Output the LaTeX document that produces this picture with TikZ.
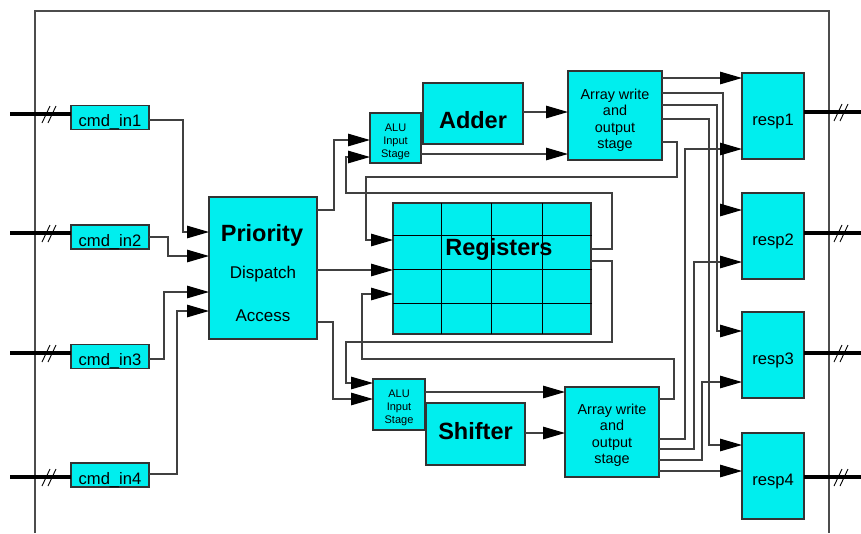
\documentclass[tikz,border=0pt]{standalone}
\usepackage{fontspec}
\setmainfont{Liberation Sans}
\usetikzlibrary{arrows.meta}
\definecolor{unitfill}{RGB}{0,238,238}
\definecolor{wiregray}{RGB}{64,64,64}
\newcommand{\fsize}[2]{\fontsize{#1}{#2}\selectfont}
\newcommand{\stack}[1]{\begin{tabular}[t]{@{}c@{}}#1\end{tabular}}

\begin{document}
\begin{tikzpicture}[x=1pt,y=-1pt,
  unit/.style={draw=black!80, line width=1.2pt, fill=unitfill, inner sep=0pt, outer sep=0pt},
  txtup/.style={text height=#1, text depth=0pt},
  txtdown/.style={text height=0pt, text depth=#1},
  port/.style={font=\fsize{16.6}{19}},
  bigtxt/.style={font=\bfseries\fsize{23.5}{27}},
  midtxt/.style={font=\fsize{17}{20}},
  stagetxt/.style={font=\fsize{14.4}{16.6}},
  alutxt/.style={font=\fsize{11}{13}},
  wire/.style={draw=wiregray, line width=1.2pt},
  feed/.style={wire, -{Triangle[length=22pt,width=12.5pt,color=black]}},
  bus/.style={line width=3.6pt, black},
  slash/.style={line width=0.9pt, black},
  frame/.style={draw=black!70, line width=1.2pt},
  gridl/.style={draw=black, line width=1pt},
]
\useasboundingbox (0,0) rectangle (861,533);

% block boundary
\draw[frame] (35,533) -- (35,11) -- (829,11) -- (829,533);

% command inputs
\node[unit, port, txtup=18pt, minimum width=78, minimum height=24] (cmd1) at (110,117.5) {cmd\_in1};
\node[unit, port, txtup=18pt, minimum width=78, minimum height=24] (cmd2) at (110,237) {cmd\_in2};
\node[unit, port, txtup=18pt, minimum width=78, minimum height=24] (cmd3) at (110,356.5) {cmd\_in3};
\node[unit, port, txtup=18pt, minimum width=78, minimum height=24] (cmd4) at (110,475) {cmd\_in4};

% priority dispatch
\node[unit, minimum width=108, minimum height=142] (prio) at (263,268) {};
\node[bigtxt, anchor=base] (priot) at (262,241) {Priority};
\node[midtxt, anchor=base] (dispt) at (263,278) {Dispatch};
\node[midtxt, anchor=base] (acct) at (263,321) {Access};

% upper datapath
\node[unit, alutxt, txtdown=14pt, minimum width=51, minimum height=50] (alu1) at (395.5,138) {\stack{ALU\\Input\\Stage}};
\node[unit, bigtxt, txtup=29.6pt, minimum width=100, minimum height=61] (adder) at (473,113.5) {Adder};
\node[unit, stagetxt, txtdown=33pt, minimum width=94, minimum height=89] (aw1) at (615,115.5) {\stack{Array write\\and\\output\\stage}};

% register file
\node[unit, minimum width=198, minimum height=131] (regs) at (492,268.5) {};
\foreach \gx in {441,491,542}
  \draw[gridl] (\gx,0 |- regs.north) -- (\gx,0 |- regs.south);
\foreach \gy in {235,269,303}
  \draw[gridl] (regs.west |- 0,\gy) -- ([xshift=1pt]regs.east |- 0,\gy);
\node[bigtxt, anchor=base] (regst) at (499,255) {Registers};

% lower datapath
\node[unit, alutxt, txtdown=15pt, minimum width=52, minimum height=51] (alu2) at (399,404.5) {\stack{ALU\\Input\\Stage}};
\node[unit, bigtxt, txtup=11.6pt, minimum width=99, minimum height=62] (shifter) at (475.5,434) {Shifter};
\node[unit, stagetxt, txtdown=36pt, minimum width=94, minimum height=90] (aw2) at (612,432) {\stack{Array write\\and\\output\\stage}};

% responses
\node[unit, port, txtup=19pt, minimum width=62, minimum height=86] (resp1) at (773,116) {resp1};
\node[unit, port, txtup=19pt, minimum width=62, minimum height=86] (resp2) at (773,236) {resp2};
\node[unit, port, txtup=19pt, minimum width=62, minimum height=86] (resp3) at (773,355) {resp3};
\node[unit, port, txtup=19pt, minimum width=62, minimum height=86] (resp4) at (773,476) {resp4};

% input buses
\coordinate (in1) at (10,114);
\coordinate (in2) at (10,233);
\coordinate (in3) at (10,353);
\coordinate (in4) at (10,477);
\draw[bus] (in1) -- (cmd1.west |- in1);
\draw[bus] (in2) -- (cmd2.west |- in2);
\draw[bus] (in3) -- (cmd3.west |- in3);
\draw[bus] (in4) -- (cmd4.west |- in4);
\foreach \by in {114,233,353,477} {
  \draw[slash] (42,\by+9) -- (50,\by-8);
  \draw[slash] (48,\by+9) -- (56,\by-8);
}

% output buses
\coordinate (out1) at (861,112);
\coordinate (out2) at (861,233);
\coordinate (out3) at (861,353);
\coordinate (out4) at (861,477);
\draw[bus] (resp1.east |- out1) -- (out1);
\draw[bus] (resp2.east |- out2) -- (out2);
\draw[bus] (resp3.east |- out3) -- (out3);
\draw[bus] (resp4.east |- out4) -- (out4);
\foreach \by in {112,233,353,477} {
  \draw[slash] (834,\by+9) -- (842,\by-8);
  \draw[slash] (840,\by+9) -- (848,\by-8);
}

% commands into the dispatcher
\draw[feed] (cmd1.east |- 0,120) -| (183,232) -- (prio.west |- 0,232);
\draw[feed] (cmd2.east |- 0,237) -| (168,256) -- (prio.west |- 0,256);
\draw[feed] (cmd3.east |- 0,359) -| (164,292) -- (prio.west |- 0,292);
\draw[feed] (cmd4.east |- 0,474) -| (177,311) -- (prio.west |- 0,311);

% dispatcher outputs
\draw[feed] (prio.east |- 0,210) -| (334,140) -- (alu1.west |- 0,140);
\draw[feed] (prio.east |- 0,270) -- (regs.west |- 0,270);
\draw[feed] (prio.east |- 0,322) -| (333,399) -- (alu2.west |- 0,399);

% upper datapath
\draw[feed] (alu1.east |- 0,154) -- (aw1.west |- 0,154);
\draw[feed] (adder.east |- 0,112) -- (aw1.west |- 0,112);
\draw[feed] (aw1.east |- 0,78) -- (resp1.west |- 0,78);
\draw[feed] (aw1.east |- 0,93) -| (723,210) -- (resp2.west |- 0,210);
\draw[feed] (aw1.east |- 0,105) -| (717,331) -- (resp3.west |- 0,331);
\draw[feed] (aw1.east |- 0,119) -| (709,445) -- (resp4.west |- 0,445);
\draw[feed] (aw1.east |- 0,142) -| (677,177) -| (366,240) -- (regs.west |- 0,240);

% register read ports
\draw[feed] (regs.east |- 0,249) -| (612,193) -| (346,157) -- (alu1.west |- 0,157);
\draw[feed] (regs.east |- 0,261) -| (612,342) -| (346,383) -- (alu2.west |- 0,383);

% lower datapath
\draw[feed] (aw2.east |- 0,399) -| (674,359) -| (362,294) -- (regs.west |- 0,294);
\draw[feed] (alu2.east |- 0,392) -- (aw2.west |- 0,392);
\draw[feed] (shifter.east |- 0,433) -- (aw2.west |- 0,433);
\draw[feed] (aw2.east |- 0,439) -| (685,149) -- (resp1.west |- 0,149);
\draw[feed] (aw2.east |- 0,449) -| (694,262) -- (resp2.west |- 0,262);
\draw[feed] (aw2.east |- 0,460) -| (702,382) -- (resp3.west |- 0,382);
\draw[feed] (aw2.east |- 0,471) -- (resp4.west |- 0,471);
\end{tikzpicture}
\end{document}
